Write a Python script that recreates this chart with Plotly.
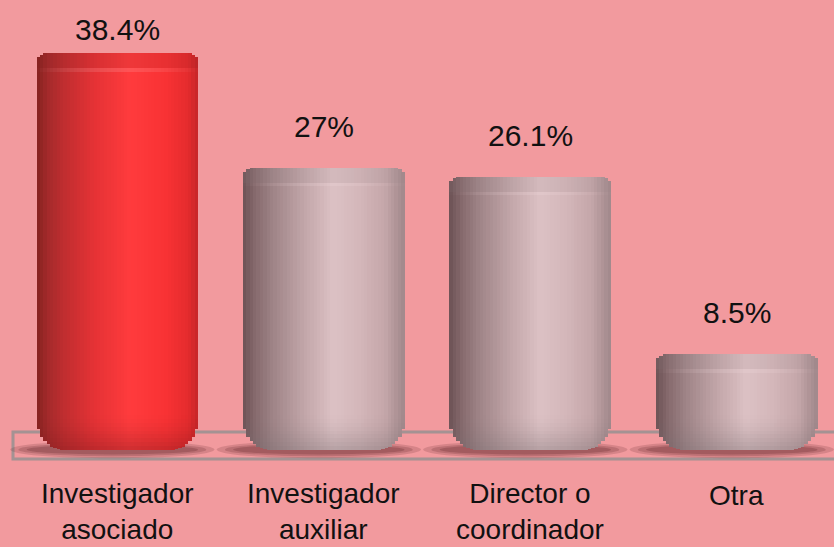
import numpy as np
import plotly.graph_objects as go

# ---- data -------------------------------------------------------------
categories = ["Investigador asociado", "Investigador auxiliar",
              "Director o coordinador", "Otra"]
tick_labels = ["Investigador<br>asociado", "Investigador<br>auxiliar",
               "Director o<br>coordinador", "Otra"]
values = [38.4, 27.0, 26.1, 8.5]

# ---- style ------------------------------------------------------------
BG = "#F29A9E"
FONT = "Liberation Sans, Arial, sans-serif"
W, H = 834, 547
X_RANGE = [-0.569, 3.470]
Y_RANGE = [-10.67, 43.65]
PX_X = W / (X_RANGE[1] - X_RANGE[0])
PX_Y = H / (Y_RANGE[1] - Y_RANGE[0])

BAR_W = 0.782          # cylinder width in category units
N_STRIPS = 48          # vertical strips used to shade each cylinder
BASE = -1.0            # cylinders sit slightly into the floor plane

# horizontal shading of the cylinders (position across the bar, colour)
RED_STOPS = [(0.00, "#84221F"), (0.07, "#A42A2B"), (0.18, "#C22E30"),
             (0.36, "#E53235"), (0.58, "#FF3B3D"), (0.80, "#F83234"),
             (0.94, "#E42B2D"), (1.00, "#C42628")]
GRAY_STOPS = [(0.00, "#6C5255"), (0.07, "#84686B"), (0.18, "#9E8386"),
              (0.38, "#C2A6A9"), (0.56, "#DCC1C4"), (0.72, "#D4B7BA"),
              (0.88, "#C4A6A9"), (1.00, "#A0878A")]


def hex2rgb(h):
    h = h.lstrip("#")
    return np.array([int(h[i:i + 2], 16) for i in (0, 2, 4)], dtype=float)


def ramp(stops, u):
    pos = [s[0] for s in stops]
    cols = np.array([hex2rgb(s[1]) for s in stops])
    return np.array([np.interp(u, pos, cols[:, c]) for c in range(3)])


def mix(rgb, target, a):
    return rgb * (1 - a) + np.array(target, dtype=float) * a


def css(rgb):
    r, g, b = np.clip(np.round(rgb), 0, 255).astype(int)
    return f"rgb({r},{g},{b})"


def corner_inset(d_px, rh_px, rv_units):
    """Vertical inset of a rounded corner at distance d_px from the side."""
    if d_px >= rh_px:
        return 0.0
    t = (rh_px - d_px) / rh_px
    return rv_units * (1 - np.sqrt(max(0.0, 1 - t * t)))


TOP_RH, TOP_RV = 12.0, 9.0 / PX_Y
BOT_RH, BOT_RV = 26.0, 32.0 / PX_Y

idx = list(range(len(values)))
hi_bar = int(np.argmax(values))
strip_w = BAR_W / N_STRIPS
bar_px = BAR_W * PX_X

fig = go.Figure()


def add_layer(lo_fn, hi_fn, shade_fn):
    """Add one shading layer, clipped to the rounded cylinder outline."""
    for k in range(N_STRIPS):
        u = (k + 0.5) / N_STRIPS
        d_px = min(u, 1 - u) * bar_px
        bases, heights, colors = [], [], []
        for i, v in enumerate(values):
            bottom = BASE + corner_inset(d_px, BOT_RH, BOT_RV)
            top = v - corner_inset(d_px, TOP_RH, TOP_RV)
            lo = max(bottom, lo_fn(v))
            hi = min(top, hi_fn(v))
            red = i == hi_bar
            base_rgb = ramp(RED_STOPS if red else GRAY_STOPS, u)
            bases.append(lo)
            heights.append(max(0.0, hi - lo))
            colors.append(css(shade_fn(base_rgb, u, red)))
        fig.add_trace(go.Bar(
            x=idx, y=heights, base=bases,
            width=strip_w * 1.15, offset=-BAR_W / 2 + k * strip_w - strip_w * 0.075,
            marker=dict(color=colors, line=dict(width=0)),
            hoverinfo="skip", showlegend=False,
        ))


# cylinder body
add_layer(lambda v: BASE, lambda v: v, lambda c, u, red: c)

# soft vertical darkening towards the rounded bottom
N_BANDS = 9
BAND_H = 3.4 / N_BANDS
for j in range(N_BANDS):
    a = 0.34 * ((N_BANDS - j) / N_BANDS) ** 1.6
    add_layer(lambda v, j=j: BASE + j * BAND_H,
              lambda v, j=j: BASE + (j + 1) * BAND_H,
              lambda c, u, red, a=a: mix(c, (120, 25, 28) if red else (115, 105, 108), a))

# top surface seen at a shallow angle
add_layer(lambda v: v - 1.5, lambda v: v,
          lambda c, u, red: mix(c, (120, 30, 32) if red else (150, 135, 138), 0.12))
# soft highlight rim under the top surface
add_layer(lambda v: v - 1.85, lambda v: v - 1.5,
          lambda c, u, red: mix(c, (255, 235, 238), 0.14 * np.sin(np.pi * u) ** 0.8))

# ---- floor plane and shadows -------------------------------------------
shapes = [dict(type="rect", xref="paper", yref="paper",
               x0=13 / W, x1=1.02, y0=(H - 459) / H, y1=(H - 432) / H,
               line=dict(color="rgba(150,145,145,0.85)", width=3),
               fillcolor="rgba(0,0,0,0)", layer="below")]
for i in idx:
    for hw, hh, op in [(0.49, 0.85, 0.20), (0.45, 0.65, 0.24), (0.41, 0.48, 0.30)]:
        shapes.append(dict(type="circle", xref="x", yref="y",
                           x0=i - hw - 0.03, x1=i + hw - 0.02,
                           y0=-1.0 - hh, y1=-1.0 + hh,
                           fillcolor="rgb(105,45,50)", opacity=op,
                           line=dict(width=0), layer="below"))

# ---- labels -------------------------------------------------------------
annotations = []
label_cap = 40.7
for i, v in enumerate(values):
    annotations.append(dict(x=i, y=min(v + 4.1, label_cap), xref="x", yref="y",
                            text=f"{v:g}%", showarrow=False,
                            font=dict(family=FONT, size=30, color="#111111")))
for i, t in enumerate(tick_labels):
    annotations.append(dict(x=i, y=(H - 495) / H, xref="x", yref="paper",
                            text=t, showarrow=False, yanchor="middle",
                            font=dict(family=FONT, size=28, color="#111111"),
                            yshift=-16 if "<br>" in t else 0))

fig.update_layout(
    width=W, height=H,
    margin=dict(l=0, r=0, t=0, b=0),
    paper_bgcolor=BG, plot_bgcolor=BG,
    barmode="overlay", bargap=0,
    xaxis=dict(range=X_RANGE, visible=False, fixedrange=True),
    yaxis=dict(range=Y_RANGE, visible=False, fixedrange=True),
    shapes=shapes, annotations=annotations,
    showlegend=False,
)

fig.write_html("out.html")
